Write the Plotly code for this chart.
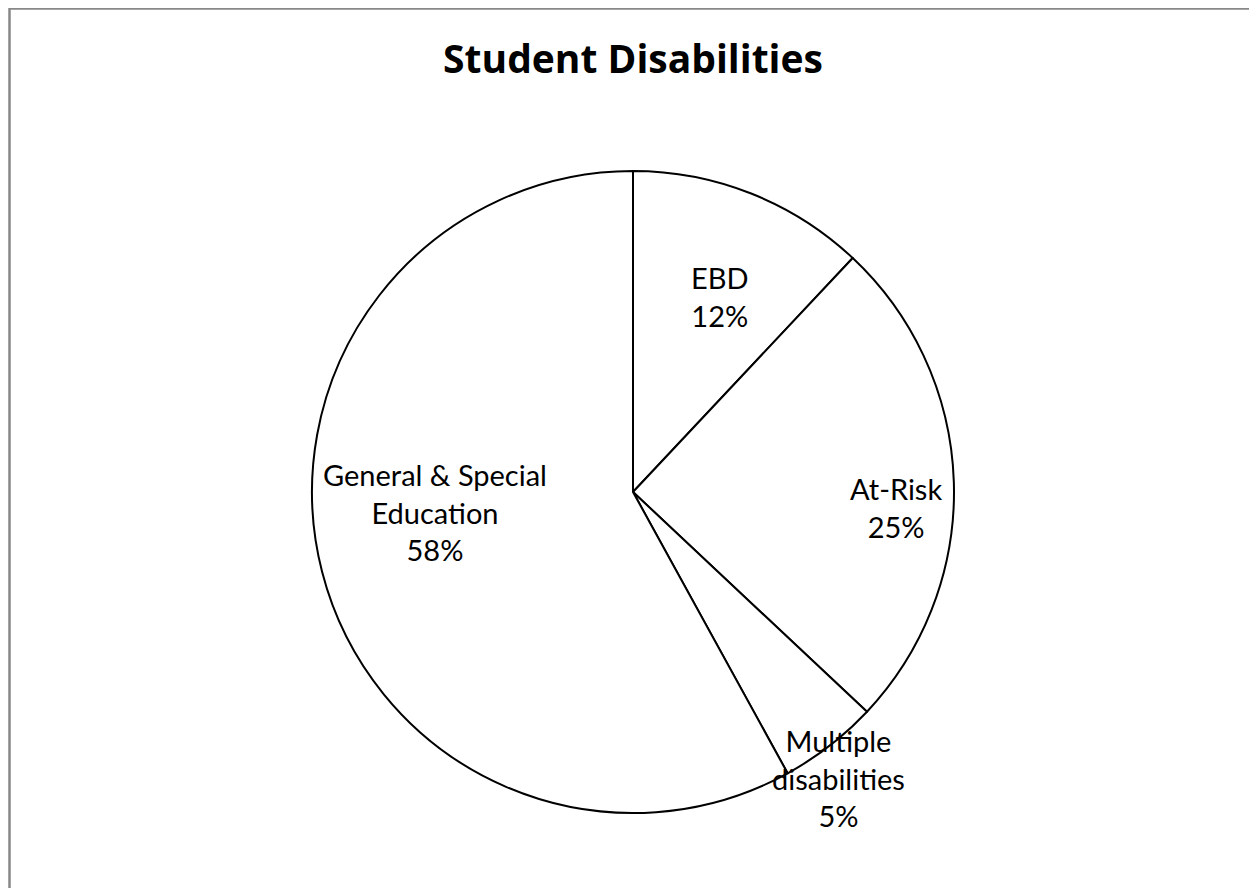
import plotly.graph_objects as go

# Data
categories = ["EBD", "At-Risk", "Multiple disabilities", "General & Special Education"]
values = [12, 25, 5, 58]
label_lines = ["EBD", "At-Risk", "Multiple<br>disabilities", "General & Special<br>Education"]

W, H = 1257, 888
OFF = 8  # page body margin of the html page
FONT = "Lato"


def px_x(p):
    return (p - OFF) / W


def px_y(p):
    return 1 - (p - OFF) / H


# pie geometry (target page pixels)
cx, cy, R = 633, 492, 321

# label anchor positions (target page pixels) - layout styling
label_pos = [(720, 296), (896, 507), (838, 778), (435, 512)]

fig = go.Figure(go.Pie(
    labels=categories,
    values=values,
    sort=False,
    direction="clockwise",
    rotation=0,
    marker=dict(colors=["white"] * 4, line=dict(color="black", width=2)),
    textinfo="none",
    hoverinfo="label+percent",
    showlegend=False,
    domain=dict(x=[px_x(cx - R), px_x(cx + R)], y=[px_y(cy + R), px_y(cy - R)]),
))

total = sum(values)
annotations = []
for txt, v, (px, py) in zip(label_lines, values, label_pos):
    pct = round(100 * v / total)
    annotations.append(dict(
        text=f"{txt}<br>{pct}%",
        x=px_x(px), y=px_y(py), xref="paper", yref="paper",
        xanchor="center", yanchor="middle", showarrow=False,
        font=dict(family=FONT, size=29, color="black"),
        align="center",
    ))

fig.update_layout(
    width=W, height=H,
    margin=dict(l=0, r=0, t=0, b=0),
    paper_bgcolor="white",
    plot_bgcolor="white",
    title=dict(text="<b>Student Disabilities</b>", x=px_x(633), xanchor="center",
               y=px_y(59), yanchor="middle",
               font=dict(family="Open Sans", size=39, color="black")),
    annotations=annotations,
    shapes=[dict(type="rect", xref="paper", yref="paper",
                 x0=px_x(9.5), x1=1.02, y0=-0.02, y1=px_y(8.5),
                 line=dict(color="#888888", width=2.5))],
)

fig.write_html("out.html")
